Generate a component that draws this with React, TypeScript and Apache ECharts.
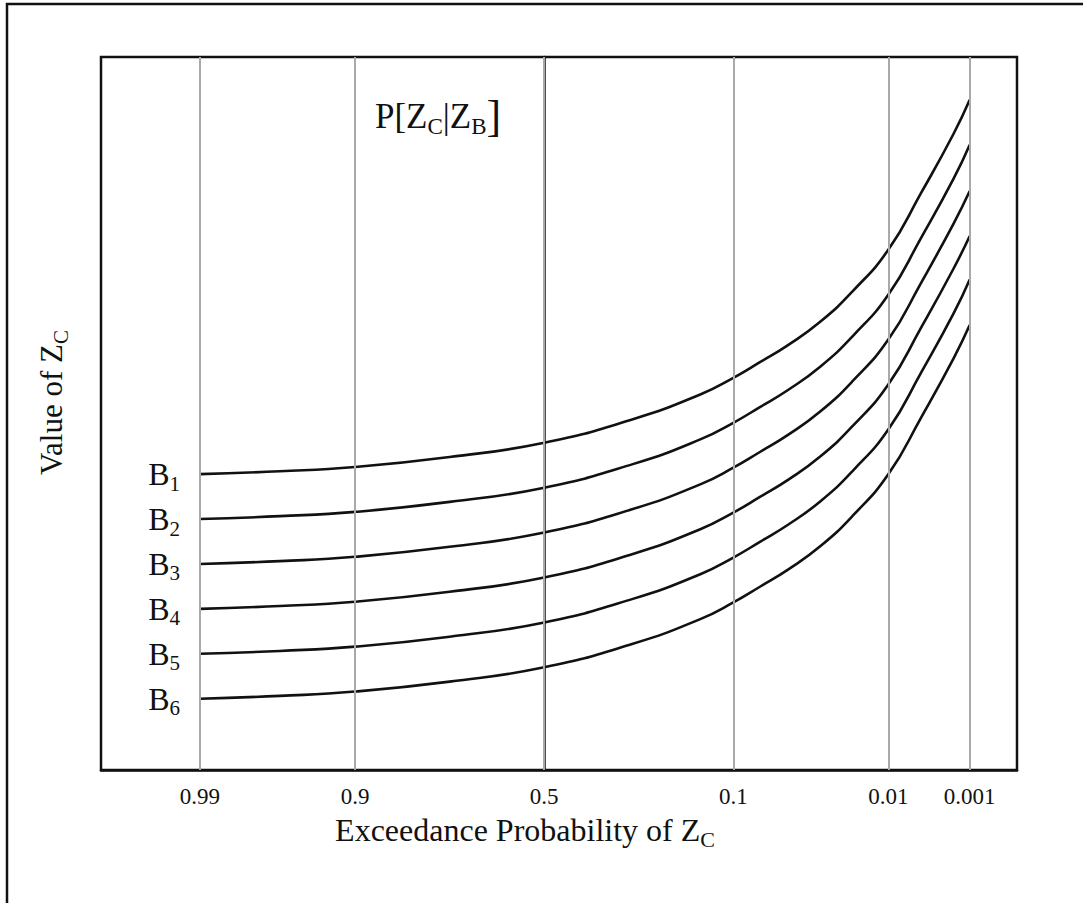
import React, { useEffect, useRef } from "react";
import * as echarts from "echarts";

// Exceedance probabilities shown on the x axis and their plotting positions
const probLabels = ["0.99", "0.9", "0.5", "0.1", "0.01", "0.001"];
const probPositions = [-2.33, -1.28, 0, 1.28, 2.33, 2.88];

// Plotting positions of the curve points
const curveX = [-2.33, -1.79, -1.28, -0.64, 0, 0.6, 1.06, 1.28, 1.46, 1.65, 1.87, 2.09, 2.33, 2.55, 2.77, 2.88];

// Value of Z_C for each conditioning level B1..B6
const b1 = [41.5, 41.9, 42.5, 43.9, 45.9, 49.2, 52.7, 55.0, 57.2, 59.6, 62.9, 67.2, 73.0, 80.9, 89.2, 94.0];
const b2 = [35.2, 35.6, 36.2, 37.6, 39.6, 42.9, 46.4, 48.7, 50.9, 53.3, 56.6, 60.9, 66.7, 74.6, 82.9, 87.7];
const b3 = [28.9, 29.3, 29.9, 31.3, 33.3, 36.6, 40.1, 42.4, 44.6, 47.0, 50.3, 54.6, 60.4, 68.3, 76.6, 81.2];
const b4 = [22.6, 23.0, 23.6, 25.0, 27.0, 30.3, 33.8, 36.1, 38.3, 40.7, 44.0, 48.3, 54.1, 62.0, 70.3, 74.9];
const b5 = [16.3, 16.7, 17.3, 18.7, 20.7, 24.0, 27.5, 29.8, 32.0, 34.4, 37.7, 42.0, 47.8, 55.7, 64.0, 68.8];
const b6 = [10.0, 10.4, 11.0, 12.4, 14.4, 17.7, 21.2, 23.5, 25.7, 28.1, 31.4, 35.7, 41.5, 49.4, 57.7, 62.4];
const curveSubs = ["1", "2", "3", "4", "5", "6"];
const curves = [b1, b2, b3, b4, b5, b6];

const FONT = "'Liberation Serif', 'Times New Roman', serif";
const INK = "#111111";

export default function App() {
  const ref = useRef<HTMLDivElement>(null);

  useEffect(() => {
    document.body.style.margin = "0";
    const chart = echarts.init(ref.current!, undefined, { renderer: "svg" });

    const subRich = (big: number, small: number, lh: number, bracket = big) => ({
      b: { fontFamily: FONT, fontSize: big, fontWeight: "normal", color: INK, lineHeight: lh, verticalAlign: "middle" },
      s: { fontFamily: FONT, fontSize: small, fontWeight: "normal", color: INK, lineHeight: lh, verticalAlign: "bottom" },
      k: { fontFamily: FONT, fontSize: bracket, fontWeight: "normal", color: INK, lineHeight: lh, verticalAlign: "middle" },
    });

    const curveSeries = curves.map((data, i) => ({
      type: "line",
      name: "B" + curveSubs[i],
      data: curveX.map((x, j) => [x, data[j]]),
      smooth: 0.5,
      showSymbol: false,
      symbol: "none",
      z: 3,
      lineStyle: { color: INK, width: 2.6 },
      emphasis: { disabled: true },
    }));

    // start points of each curve carry the B labels
    const labelSeries = {
      type: "scatter",
      name: "labels",
      z: 4,
      silent: true,
      symbol: "circle",
      symbolSize: 2,
      itemStyle: { color: "rgba(255,255,255,0)" },
      data: curves.map((data, i) => ({ value: [curveX[0], data[0]], name: curveSubs[i] })),
      label: {
        show: true,
        position: "left",
        distance: 19,
        color: INK,
        opacity: 1,
        textBorderWidth: 0,
        formatter: (p: any) => `{b|B}{s|${p.name}}`,
        rich: subRich(32, 21, 40),
      },
      labelLayout: { hideOverlap: false },
      emphasis: { disabled: true },
    };

    chart.setOption({
      animation: false,
      backgroundColor: "#ffffff",
      title: {
        text: "{b|P[Z}{s|C}{b||Z}{s|B}{k|]}",
        left: 370,
        top: 89,
        textStyle: { fontWeight: "normal", rich: subRich(35, 23, 44, 44) },
      },
      grid: {
        left: 101,
        top: 57,
        right: 66,
        bottom: 133,
        show: true,
        borderColor: INK,
        borderWidth: 2.5,
        backgroundColor: "transparent",
      },
      xAxis: {
        type: "value",
        min: -3.0,
        max: 3.2,
        name: "{b|Exceedance Probability of Z}{s|C}",
        nameLocation: "middle",
        nameGap: 40,
        nameTextStyle: { rich: subRich(32, 22, 40), padding: [0, 68, 0, 0] },
        axisLine: { show: true, lineStyle: { color: INK, width: 2.5 } },
        axisTick: { show: false },
        splitLine: { show: false },
        axisLabel: {
          customValues: probPositions,
          margin: 15,
          fontFamily: FONT,
          fontSize: 23,
          color: INK,
          formatter: (v: number) => {
            const idx = probPositions.findIndex((p) => Math.abs(p - v) < 1e-6);
            return idx >= 0 ? probLabels[idx] : "";
          },
        },
      },
      yAxis: {
        type: "value",
        min: 0,
        max: 100,
        name: "{b|Value of Z}{s|C}",
        nameLocation: "middle",
        nameRotate: 90,
        nameGap: 30,
        nameTextStyle: { rich: subRich(31, 21, 40), padding: [0, 0, 0, 22] },
        axisLine: { show: true, lineStyle: { color: INK, width: 2.5 } },
        axisTick: { show: false },
        axisLabel: { show: false },
        splitLine: { show: false },
      },
      graphic: [
        {
          type: "rect",
          shape: { x: 7, y: 4, width: 1200, height: 1000 },
          style: { fill: "none", stroke: INK, lineWidth: 2.5 },
          silent: true,
        },
      ],
      series: [
        {
          type: "line",
          name: "grid",
          data: [],
          z: 1,
          silent: true,
          markLine: {
            silent: true,
            symbol: ["none", "none"],
            label: { show: false },
            lineStyle: { color: "#a9a9a9", width: 2, type: "solid" },
            emphasis: { disabled: true },
            data: probPositions.map((v) => ({ xAxis: v })),
          },
        },
        ...curveSeries,
        labelSeries,
      ],
    });

    return () => chart.dispose();
  }, []);

  return (
    <div
      ref={ref}
      style={{ position: "absolute", left: 0, top: 0, width: 1083, height: 903 }}
    />
  );
}
